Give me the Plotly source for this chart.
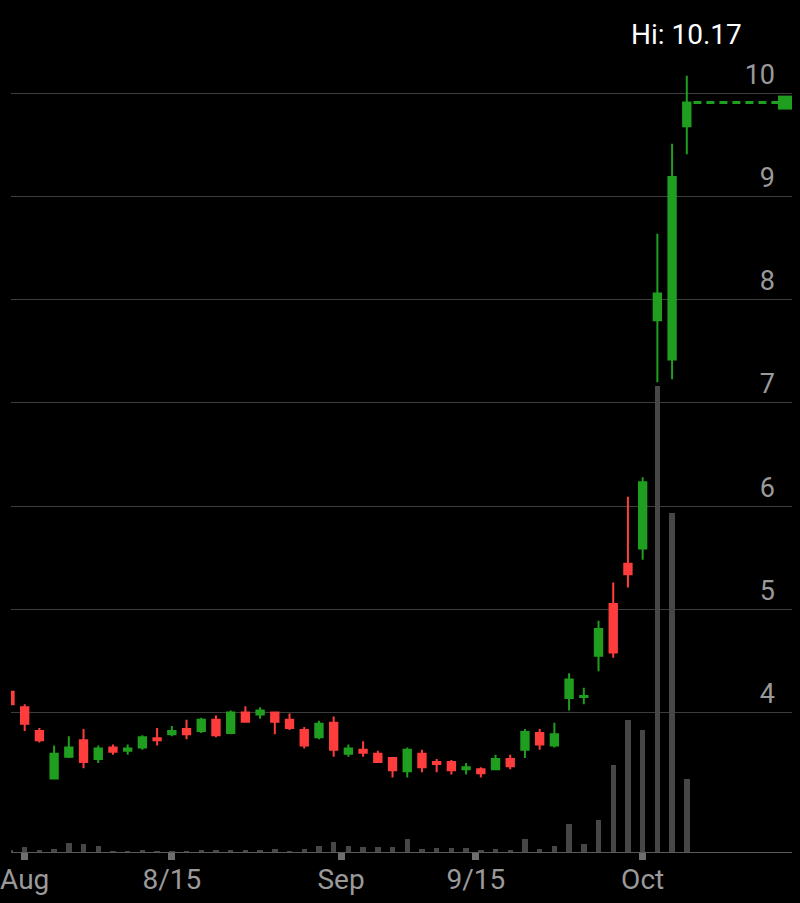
import datetime as dt
import pandas as pd
import plotly.graph_objects as go

# ---- data ----
dates = [d.date() for d in pd.bdate_range("2019-07-31", "2019-10-04") if d.date() != dt.date(2019, 9, 2)]

opens = [4.20, 4.05, 3.82, 3.36, 3.57, 3.73, 3.55, 3.66, 3.63, 3.66,
         3.75, 3.79, 3.84, 3.82, 3.93, 3.80, 4.00, 3.98, 4.00, 3.93,
         3.83, 3.76, 3.90, 3.60, 3.64, 3.60, 3.56, 3.43, 3.60, 3.52,
         3.52, 3.45, 3.45, 3.45, 3.55, 3.64, 3.80, 3.68, 4.14, 4.15,
         4.55, 5.05, 5.44, 5.59, 7.80, 7.42, 9.68]
highs = [4.25, 4.08, 3.85, 3.68, 3.77, 3.84, 3.68, 3.69, 3.69, 3.78,
         3.85, 3.87, 3.93, 3.95, 3.97, 4.02, 4.06, 4.05, 4.00, 3.99,
         3.86, 3.92, 3.96, 3.69, 3.72, 3.63, 3.56, 3.66, 3.64, 3.55,
         3.54, 3.51, 3.47, 3.59, 3.59, 3.84, 3.84, 3.90, 4.38, 4.24,
         4.89, 5.26, 6.09, 6.28, 8.64, 9.51, 10.17]
lows = [4.07, 3.82, 3.71, 3.35, 3.56, 3.46, 3.51, 3.59, 3.59, 3.64,
        3.68, 3.77, 3.74, 3.80, 3.76, 3.79, 3.90, 3.94, 3.79, 3.83,
        3.65, 3.74, 3.57, 3.57, 3.57, 3.51, 3.37, 3.37, 3.42, 3.42,
        3.40, 3.40, 3.37, 3.44, 3.45, 3.56, 3.64, 3.66, 4.02, 4.08,
        4.40, 4.53, 5.21, 5.48, 7.20, 7.23, 9.41]
closes = [4.08, 3.89, 3.73, 3.60, 3.66, 3.52, 3.65, 3.62, 3.65, 3.76,
          3.73, 3.82, 3.79, 3.93, 3.78, 4.00, 3.91, 4.02, 3.91, 3.85,
          3.68, 3.89, 3.64, 3.65, 3.61, 3.52, 3.44, 3.64, 3.47, 3.50,
          3.44, 3.47, 3.41, 3.55, 3.48, 3.81, 3.69, 3.79, 4.32, 4.16,
          4.81, 4.58, 5.34, 6.23, 8.06, 9.19, 9.91]
volumes = [13, 47, 13, 27, 87, 80, 60, 10, 7, 13,
           10, 7, 7, 13, 20, 20, 13, 20, 27, 7,
           27, 63, 100, 60, 47, 47, 47, 133, 27, 37,
           37, 37, 20, 27, 13, 130, 27, 60, 280, 77,
           320, 870, 1320, 1220, 4660, 3390, 730]

tick_dates = [dt.date(2019, 8, 1), dt.date(2019, 8, 15), dt.date(2019, 9, 1),
              dt.date(2019, 9, 15), dt.date(2019, 10, 1)]
tick_labels = ["Aug", "8/15", "Sep", "9/15", "Oct"]
price_ticks = [4, 5, 6, 7, 8, 9, 10]

# ---- positions: trading-day index, calendar ticks interpolated ----
xs = list(range(len(dates)))


def date_pos(d):
    for i in range(len(dates) - 1):
        if dates[i] <= d <= dates[i + 1]:
            return i + (d - dates[i]).days / (dates[i + 1] - dates[i]).days
    return float(len(dates) - 1)


tick_pos = [date_pos(d) for d in tick_dates]

GREEN = "#1f9e1f"
RED = "#ff3d3d"
GREY_TXT = "#9a9a9a"
FONT = "Roboto"

x_range = [0.07, 53.15]
px_per_unit = 784 / (x_range[1] - x_range[0])
marker_x = x_range[1] - 7 / px_per_unit
last = len(dates) - 1

fig = go.Figure()

fig.add_trace(go.Bar(
    x=xs, y=volumes, width=0.37, marker=dict(color="#474747", line=dict(width=0)),
    yaxis="y", hoverinfo="skip", showlegend=False))

fig.add_trace(go.Candlestick(
    x=xs, open=opens, high=highs, low=lows, close=closes, yaxis="y2",
    increasing=dict(line=dict(color=GREEN, width=2), fillcolor=GREEN),
    decreasing=dict(line=dict(color=RED, width=2), fillcolor=RED),
    whiskerwidth=0, showlegend=False))

fig.add_trace(go.Scatter(
    x=[last + 0.45, marker_x], y=[closes[-1], closes[-1]], yaxis="y2",
    mode="lines", line=dict(color=GREEN, width=3, dash="8px,5px"),
    hoverinfo="skip", showlegend=False, cliponaxis=False))
fig.add_trace(go.Scatter(
    x=[marker_x], y=[closes[-1]], yaxis="y2", mode="markers",
    marker=dict(symbol="square", size=14, color=GREEN, line=dict(width=0)),
    hoverinfo="skip", showlegend=False, cliponaxis=False))

hi_idx = max(range(len(highs)), key=lambda i: highs[i])
fig.add_annotation(
    x=hi_idx, xref="x", y=1 - 35 / 852, yref="paper", yanchor="middle",
    text=f"Hi: {highs[hi_idx]:.2f}", showarrow=False,
    font=dict(family=FONT, size=28, color="#ffffff"))

fig.update_layout(
    width=800, height=903,
    margin=dict(l=8, r=8, t=0, b=51),
    paper_bgcolor="#000000", plot_bgcolor="#000000",
    boxgap=0.5, boxgroupgap=0,
    bargap=0,
    xaxis=dict(
        range=x_range, rangeslider=dict(visible=False),
        showgrid=False, zeroline=False,
        showline=True, linecolor="#5a5a5a", linewidth=1,
        tickmode="array", tickvals=tick_pos, ticktext=tick_labels,
        ticks="outside", ticklen=7, tickwidth=7, tickcolor="#6e6e6e",
        ticklabeloverflow="allow", ticklabelstandoff=-5,
        tickfont=dict(family=FONT, size=28, color=GREY_TXT)),
    yaxis=dict(
        range=[0, 8520], showgrid=False, zeroline=False,
        showticklabels=False, fixedrange=True),
    yaxis2=dict(
        overlaying="y", side="right", range=[2.648, 10.904],
        tickmode="array", tickvals=price_ticks,
        showgrid=True, gridcolor="#3d3d3d", gridwidth=1, zeroline=False,
        ticks="", ticklabelposition="inside top", ticklabelstandoff=14,
        tickfont=dict(family=FONT, size=27, color=GREY_TXT)),
)

fig.write_html(
    "out.html",
    config={"displayModeBar": False},
    post_script="document.body.style.margin='0';document.body.style.background='#000';")
